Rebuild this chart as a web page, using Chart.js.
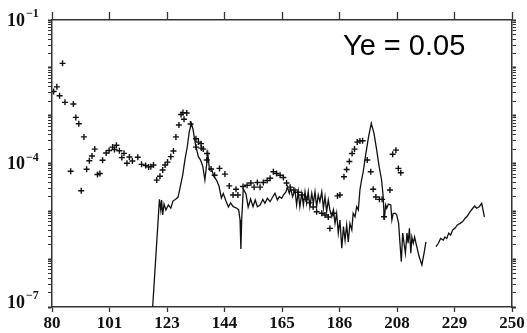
<!DOCTYPE html>
<html>
<head>
<meta charset="utf-8">
<script src="https://cdn.jsdelivr.net/npm/chart.js@4/dist/chart.umd.min.js"></script>
<style>
  html, body { margin: 0; padding: 0; background: #fff; }
  canvas { display: block; }
</style>
</head>
<body>
<canvas id="c" width="527" height="333"></canvas>
<script>
// Measured points (crosses)
const crossX = [
  80.6, 81.8, 82.8, 83.9, 84.8, 86.9, 87.9, 88.8, 89.9, 90.8,
  91.8, 92.8, 93.8, 94.8, 95.8, 96.8, 97.7, 98.7, 100.0, 101.1,
  102.4, 103.1, 103.8, 104.9, 105.8, 106.6, 107.7, 108.6, 109.7, 111.7,
  113.1, 114.6, 115.7, 116.5, 117.5, 118.7, 119.9, 120.9, 121.8, 122.7,
  123.9, 124.9, 125.8, 126.9, 127.7, 128.4, 128.8, 129.8, 131.2, 133.2,
  133.2, 134.1, 135.1, 135.2, 135.9, 137.3, 137.2, 138.8, 140.1, 141.9,
  143.9, 145.5, 146.9, 148.0, 148.7, 150.6, 152.1, 153.5, 154.7, 155.9,
  156.9, 158.1, 159.5, 160.6, 161.8, 163.0, 164.3, 165.5, 166.7, 168.0,
  169.4, 170.9, 172.4, 173.9, 175.3, 176.5, 177.8, 179.7, 180.9, 182.1,
  182.7, 184.0, 185.5, 186.4, 187.9, 188.9, 189.9, 190.9, 191.8, 192.8,
  193.8, 194.8, 196.5, 197.8, 198.7, 199.7, 201.0, 202.0, 202.7, 204.9,
  205.9, 207.1, 208.0, 208.9
];
const crossY = [
  3.2e-3, 4.0e-3, 2.6e-3, 1.24e-2, 1.9e-3, 6.9e-5, 1.75e-3, 9.2e-4, 6.8e-4, 2.7e-5,
  3.6e-4, 7.6e-5, 1.14e-4, 1.43e-4, 2.0e-4, 5.9e-5, 6.2e-5, 1.17e-4, 1.66e-4, 1.87e-4,
  2.2e-4, 1.96e-4, 2.4e-4, 1.85e-4, 1.33e-4, 1.63e-4, 1.01e-4, 1.37e-4, 1.13e-4, 1.35e-4,
  9.6e-5, 9.1e-5, 8.5e-5, 8.6e-5, 9.3e-5, 4.5e-5, 5.4e-5, 7.3e-5, 9.3e-5, 1.07e-4,
  1.39e-4, 1.82e-4, 3.6e-4, 6.4e-4, 1.06e-3, 1.16e-3, 8.4e-4, 1.14e-3, 6.7e-4, 3.3e-4,
  2.2e-4, 2.8e-4, 2.6e-4, 2.1e-4, 2.0e-4, 1.62e-4, 1.18e-4, 7.7e-5, 5.7e-5, 7.9e-5,
  6.0e-5, 3.4e-5, 2.2e-5, 2.9e-5, 2.2e-5, 3.3e-5, 3.5e-5, 3.9e-5, 3.2e-5, 4.0e-5,
  3.2e-5, 4.0e-5, 4.4e-5, 4.9e-5, 6.7e-5, 6.2e-5, 5.7e-5, 5.1e-5, 3.9e-5, 3.2e-5,
  2.8e-5, 2.5e-5, 2.2e-5, 1.8e-5, 1.5e-5, 1.23e-5, 9.8e-6, 9.1e-6, 8.4e-6, 7.6e-6,
  4.4e-6, 9.1e-6, 2.1e-5, 2.2e-5, 5.3e-5, 7.5e-5, 1.1e-4, 1.62e-4, 2.0e-4, 2.8e-4,
  2.95e-4, 3.0e-4, 1.18e-4, 6.7e-5, 2.9e-5, 2.0e-5, 1.78e-5, 1.78e-5, 7.7e-6, 2.8e-5,
  1.56e-4, 1.9e-4, 7.9e-5, 6.4e-5
];

// Computed curve (null marks the break in the curve)
const curveX = [
  117.2, 119.7, 120.2, 120.5, 120.9, 121.4, 122.1, 123.0, 123.9, 124.7,
  125.8, 126.6, 127.4, 128.3, 129.1, 130.0, 130.7, 131.5, 132.1, 132.8,
  133.5, 134.1, 134.9, 135.7, 136.5, 137.0, 137.6, 138.2, 138.9, 139.9,
  140.8, 141.7, 142.6, 143.3, 144.3, 145.2, 146.0, 147.0, 148.3, 149.0,
  149.5, 149.8, 150.1, 150.7, 151.7, 152.5, 153.4, 154.3, 155.1, 155.9,
  156.9, 157.9, 158.7, 159.6, 160.6, 161.6, 162.4, 163.3, 164.0, 164.9,
  165.5, 166.5, 167.0, 167.7, 168.2, 168.9, 169.8, 170.4, 171.0, 171.6,
  172.3, 172.9, 173.5, 174.1, 174.7, 175.3, 176.0, 176.6, 177.2, 177.8,
  178.4, 179.0, 179.7, 180.3, 180.9, 181.5, 182.1, 182.7, 183.4, 184.0,
  184.6, 185.2, 185.8, 186.4, 187.1, 187.7, 188.3, 188.9, 189.5, 190.1,
  190.8, 191.3, 192.0, 192.6, 193.2, 193.8, 194.4, 195.0, 196.0, 197.0,
  198.0, 199.0, 200.0, 200.9, 201.8, 202.4, 202.8, 203.3, 203.7, 204.3,
  205.2, 205.6, 206.1, 206.9, 207.4, 208.1, 208.6, 209.1, 209.6, 210.1,
  210.6, 211.2, 211.6, 212.1, 212.6, 213.0, 213.5, 214.0, 214.8, 215.7,
  216.7, 217.5, 218.2, 220.0, 221.9, 222.8, 223.6, 224.6, 225.2, 225.9,
  226.6, 227.3, 228.1, 228.9, 229.8, 230.8, 231.8, 232.6, 233.5, 234.5,
  235.5, 236.2, 236.9, 237.9, 238.8, 239.8
];
const curveY = [
  1e-7, 1.78e-5, 1.07e-5, 1.73e-5, 8.4e-6, 1.42e-5, 1.07e-5, 1.36e-5, 1.17e-5, 1.64e-5,
  1.81e-5, 1.99e-5, 3.3e-5, 5.74e-5, 1.18e-4, 2.24e-4, 4.55e-4, 6.86e-4, 5.26e-4, 2.95e-4,
  1.91e-4, 1.39e-4, 1.18e-4, 8.87e-5, 4.52e-5, 7.94e-5, 1.58e-4, 7.31e-5, 7.85e-5, 5.22e-5,
  4.52e-5, 3.38e-5, 1.9e-5, 2.36e-5, 1.64e-5, 1.23e-5, 1.49e-5, 1.25e-5, 1.16e-5, 1.07e-5,
  6.6e-6, 1.63e-6, 6.6e-6, 2.93e-5, 2.3e-5, 1.23e-5, 1.81e-5, 1.25e-5, 1.73e-5, 1.25e-5,
  1.36e-5, 1.78e-5, 1.47e-5, 1.87e-5, 1.59e-5, 2.02e-5, 2.38e-5, 1.73e-5, 2.02e-5, 1.87e-5,
  2.19e-5, 2.57e-5, 3.27e-5, 2.38e-5, 3.03e-5, 2.02e-5, 2.79e-5, 1.36e-5, 2.57e-5, 1.25e-5,
  2.38e-5, 1.36e-5, 2.57e-5, 1.47e-5, 2.57e-5, 1.25e-5, 2.38e-5, 1.47e-5, 2.57e-5, 1.25e-5,
  2.19e-5, 1.59e-5, 2.57e-5, 1.16e-5, 2.02e-5, 9.8e-6, 1.73e-5, 1.07e-5, 7.7e-6, 1.07e-5,
  5.6e-6, 9.1e-6, 3.5e-6, 6.6e-6, 1.69e-6, 4.8e-6, 2.5e-6, 5.2e-6, 2.3e-6, 5.6e-6,
  4.1e-6, 9.1e-6, 7.7e-6, 1.25e-5, 1.07e-5, 2.79e-5, 4.52e-5, 6.64e-5, 1.63e-4, 3.63e-4,
  6.92e-4, 4.28e-4, 1.91e-4, 8.57e-5, 4.52e-5, 2.02e-5, 6.6e-6, 1.36e-5, 1.16e-5, 1.42e-5,
  1.36e-5, 6.6e-6, 9.1e-6, 9.1e-6, 8.4e-6, 5.6e-6, 2.15e-6, 8.9e-7, 3.5e-6, 2.15e-6,
  1.33e-6, 3.5e-6, 2.15e-6, 4.4e-6, 1.33e-6, 2.9e-6, 2.15e-6, 2.9e-6, 1.82e-6, 1.12e-6,
  7.6e-7, 1.33e-6, 2.3e-6, null, 1.82e-6, 2.15e-6, 2.7e-6, 2.5e-6, 2.9e-6, 2.7e-6,
  3.5e-6, 3.2e-6, 4.1e-6, 4.4e-6, 5.2e-6, 5.6e-6, 6.1e-6, 7.1e-6, 8.0e-6, 9.8e-6,
  1.16e-5, 1.29e-5, 1.16e-5, 1.25e-5, 1.47e-5, 7.7e-6
];

// Axis ticks
const xTickValues = [80, 101.25, 122.5, 143.75, 165, 186.25, 207.5, 228.75, 250];
const yLabelExponents = [-1, -4, -7];
const annotationText = 'Ye = 0.05';

const INK = '#111';
const FRAME = '#333';
const SERIF = '"Liberation Serif", "DejaVu Serif", serif';

function logTicks() {
  const t = [];
  for (let e = -7; e < -1; e++) {
    for (let m = 1; m < 10; m++) t.push({ value: m * Math.pow(10, e) });
  }
  t.push({ value: 0.1 });
  return t;
}
function isDecade(v) {
  const l = Math.log10(v);
  return Math.abs(l - Math.round(l)) < 1e-6;
}
function fixSize(prop, size) {
  return function (scale) {
    scale[prop] = size;
    scale.paddingLeft = scale.paddingRight = scale.paddingTop = scale.paddingBottom = 0;
  };
}

const xCommon = {
  type: 'linear', min: 80, max: 250,
  afterBuildTicks: s => { s.ticks = xTickValues.map(v => ({ value: v })); },
  border: { color: FRAME, width: 1.5 },
};
const yCommon = {
  type: 'logarithmic', min: 1e-7, max: 1e-1,
  afterBuildTicks: s => { s.ticks = logTicks(); },
  ticks: { display: false },
  border: { color: FRAME, width: 1.5 },
};

// Exponent-style labels on the left axis and the parameter note
const labelPlugin = {
  id: 'labels',
  afterDraw(chart) {
    const ctx = chart.ctx;
    const y = chart.scales.y;
    const area = chart.chartArea;
    ctx.save();
    ctx.fillStyle = INK;
    yLabelExponents.forEach(e => {
      let py = y.getPixelForValue(Math.pow(10, e));
      if (py > area.bottom - 1) py -= 5;
      ctx.font = 'bold 18px ' + SERIF;
      ctx.textAlign = 'left';
      ctx.textBaseline = 'middle';
      ctx.fillText('10', 7, py + 1);
      ctx.font = 'bold 12px ' + SERIF;
      ctx.fillText('\u2212' + Math.abs(e), 26, py - 6);
    });
    ctx.font = '29px "Liberation Sans", Arial, sans-serif';
    ctx.textAlign = 'left';
    ctx.textBaseline = 'alphabetic';
    ctx.fillStyle = '#000';
    ctx.fillText(annotationText, area.left + 291, area.top + 35);
    ctx.restore();
  }
};

new Chart(document.getElementById('c'), {
  type: 'scatter',
  data: {
    datasets: [
      {
        data: crossX.map((x, i) => ({ x: x, y: crossY[i] })),
        pointStyle: 'cross',
        pointRadius: 3,
        borderColor: INK,
        borderWidth: 1.4,
        showLine: false,
      },
      {
        data: curveX.map((x, i) => ({ x: x, y: curveY[i] })),
        showLine: true,
        spanGaps: false,
        pointRadius: 0,
        borderColor: INK,
        borderWidth: 1.3,
        tension: 0,
      }
    ]
  },
  options: {
    responsive: false,
    animation: false,
    devicePixelRatio: 1,
    layout: { padding: 0 },
    plugins: { legend: { display: false }, tooltip: { enabled: false } },
    scales: {
      x: Object.assign({}, xCommon, {
        position: 'bottom',
        afterFit: fixSize('height', 26),
        grid: { drawOnChartArea: false, tickLength: 5, tickColor: FRAME, tickWidth: 1.3 },
        ticks: {
          autoSkip: false, maxRotation: 0, padding: 1, color: INK,
          font: { family: SERIF, size: 17, weight: 'bold' },
          callback: v => String(Math.round(v)),
        },
      }),
      x2: Object.assign({}, xCommon, {
        position: 'top',
        afterFit: fixSize('height', 20),
        grid: { drawOnChartArea: false, tickLength: 8, tickColor: FRAME, tickWidth: 1.3 },
        ticks: { display: false },
      }),
      y: Object.assign({}, yCommon, {
        position: 'left',
        afterFit: fixSize('width', 52),
        grid: {
          drawOnChartArea: false, tickLength: 4, tickColor: FRAME,
          tickWidth: c => (c.tick && isDecade(c.tick.value)) ? 2 : 1,
        },
      }),
      y2: Object.assign({}, yCommon, {
        position: 'right',
        afterFit: fixSize('width', 15),
        grid: {
          drawOnChartArea: false, tickLength: 4, tickColor: FRAME,
          tickWidth: c => (c.tick && isDecade(c.tick.value)) ? 2 : 1,
        },
      }),
    }
  },
  plugins: [labelPlugin]
});
</script>
</body>
</html>
